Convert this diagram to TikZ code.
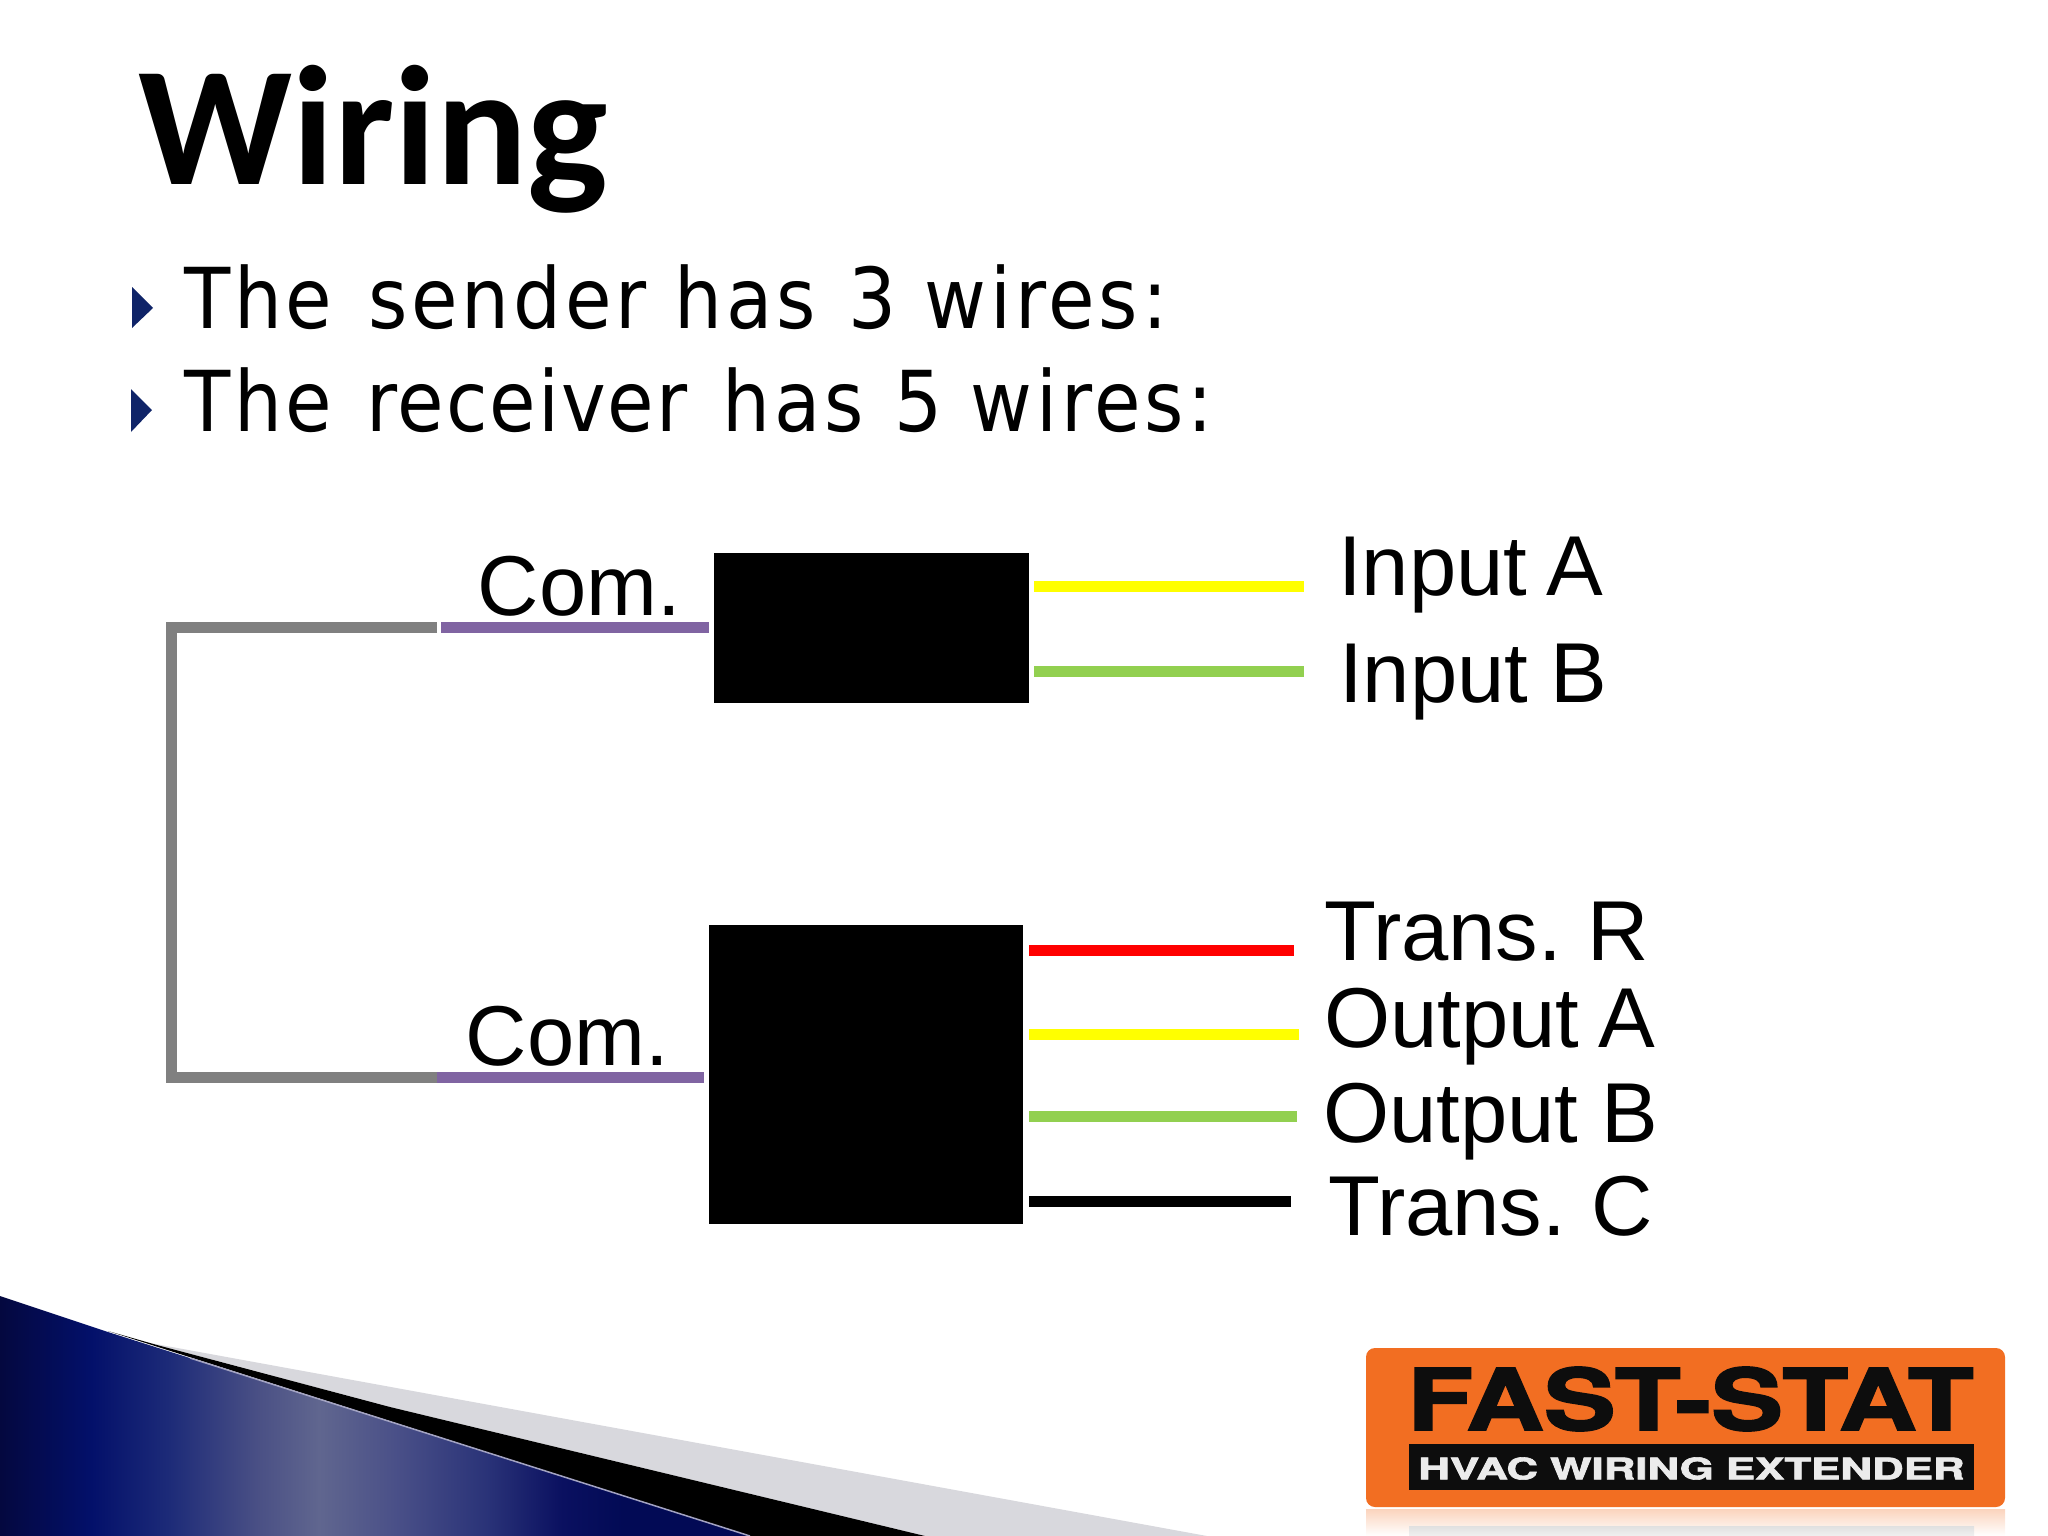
\documentclass[tikz,border=0pt]{standalone}
\usepackage{fontspec}
\usepackage{graphicx}
\setmainfont[WordSpace=0.75]{Liberation Sans}
\newfontfamily\titlefont{Carlito}
\newfontfamily\bodyfont[LetterSpace=4.6]{DejaVu Sans Condensed}
\newfontfamily\logofont[BoldFeatures={FakeBold=2}]{TeX Gyre Heros}
\usetikzlibrary{calc}
\definecolor{wirepurple}{HTML}{8064A2}
\definecolor{wiregray}{HTML}{808080}
\definecolor{wiregreen}{HTML}{92D050}
\definecolor{wireyellow}{HTML}{FFFF00}
\definecolor{wirered}{HTML}{FF0000}
\definecolor{bulletblue}{HTML}{0F2468}
\definecolor{logoorange}{HTML}{F26E22}
\definecolor{swooshgray}{HTML}{D8D8DD}
\definecolor{swa}{HTML}{04083F}
\definecolor{swb}{HTML}{03106A}
\definecolor{swc}{HTML}{1C2A78}
\definecolor{swd}{HTML}{4A5085}
\definecolor{swe}{HTML}{60668F}
\definecolor{swf}{HTML}{4A5088}
\definecolor{swg}{HTML}{2A3378}
\definecolor{swh}{HTML}{0A1060}
\definecolor{swi}{HTML}{020A55}
\pgfdeclarehorizontalshading{swooshblue}{100bp}{
  color(0bp)=(swa);
  color(25bp)=(swa);
  color(31bp)=(swb);
  color(36bp)=(swc);
  color(42bp)=(swd);
  color(46bp)=(swe);
  color(51bp)=(swf);
  color(57bp)=(swg);
  color(62bp)=(swh);
  color(66bp)=(swi);
  color(100bp)=(swi)}
\tikzset{
  wire/.style = {line width=11pt},
  wirelabel/.style = {anchor=base west, inner sep=0pt, font=\fontsize{85}{85}\selectfont},
  bodytext/.style = {anchor=base west, inner sep=0pt, font=\bodyfont\fontsize{84}{84}\selectfont},
  bullet/.style = {fill=bulletblue},
  blackbox/.style = {fill=black, inner sep=0pt}
}
\begin{document}
\begin{tikzpicture}[x=1pt,y=-1pt]
  \useasboundingbox (0,0) rectangle (2048,1536);
  \path[fill=swooshgray] (150,1343) -- (1207,1536) -- (925,1536) -- (390,1407) -- cycle;
  \path[fill=black] (108,1331) -- (157,1345) -- (390,1407) -- (925,1536) -- (750,1536) -- cycle;
  \begin{scope}
    \clip (0,1296) -- (108,1332) -- (750,1536) -- (0,1536) -- cycle;
    \shade[shading=swooshblue] (0,1296) rectangle (760,1536);
  \end{scope}
  \draw[line width=1.5pt,color=blue!20!gray!60] (190,1358) -- (750,1536);
  \node[anchor=base west, inner sep=0pt, font=\titlefont\bfseries\fontsize{170}{170}\selectfont] (title) at (138,184) {Wiring};
  \node[bodytext] (line1) at (184,328) {The\hspace{8pt} sender has\hspace{5pt} 3 wires:};
  \node[bodytext] (line2) at (184,431) {The\hspace{6pt} {\addfontfeature{LetterSpace=2.4}receiver}\hspace{7pt} has\hspace{3pt} 5 wires:};
  \path[bullet] (132,287) -- (153,308) -- (132,328) -- cycle;
  \path[bullet] (131,389) -- (152,410) -- (131,432) -- cycle;
  \node[blackbox, minimum width=315pt, minimum height=150pt] (sender) at (871.5,628) {};
  \node[blackbox, minimum width=314pt, minimum height=299pt] (receiver) at (866,1074.5) {};
  \coordinate (comA) at (437,627.5);
  \coordinate (comB) at (437,1077);
  \draw[wire,wiregray] (comA) -- (171,627.5) -- (171,1077) -- (comB);
  \draw[wire,wirepurple] ([xshift=-5]sender.west |- comA) -- ([xshift=4]comA);
  \draw[wire,wirepurple] ([xshift=-5]receiver.west |- comB) -- (comB);
  \coordinate (inA) at (1304,586);
  \coordinate (inB) at (1304,671);
  \coordinate (trR) at (1294,950);
  \coordinate (outA) at (1299,1034);
  \coordinate (outB) at (1297,1116);
  \coordinate (trC) at (1291,1201);
  \draw[wire,wireyellow] ([xshift=5]sender.east |- inA) -- (inA);
  \draw[wire,wiregreen] ([xshift=5]sender.east |- inB) -- (inB);
  \draw[wire,wirered] ([xshift=6]receiver.east |- trR) -- (trR);
  \draw[wire,wireyellow] ([xshift=6]receiver.east |- outA) -- (outA);
  \draw[wire,wiregreen] ([xshift=6]receiver.east |- outB) -- (outB);
  \draw[wire,black] ([xshift=6]receiver.east |- trC) -- (trC);
  \node[wirelabel] (comAlabel) at (477.5,615) {Com.};
  \node[wirelabel] (comBlabel) at (465.5,1065) {Com.};
  \node[wirelabel] (inAlabel) at (1338,595) {Input\hspace{2pt} A};
  \node[wirelabel] (inBlabel) at (1339,702) {Input\hspace{5pt} B};
  \node[wirelabel] (trRlabel) at (1324,960) {Trans. R};
  \node[wirelabel] (outAlabel) at (1324,1047) {Output\hspace{1pt} A};
  \node[wirelabel] (outBlabel) at (1323,1142) {Output\hspace{5pt} B};
  \node[wirelabel] (trClabel) at (1328,1235) {Trans. C};
  \shade[top color=logoorange!30, bottom color=white] (1366,1509) rectangle (2005,1536);
  \shade[top color=black!12, bottom color=black!6] (1409,1526) rectangle (1974,1536);
  \path[fill=logoorange, rounded corners=9pt] (1366,1348) rectangle (2005,1507);
  \path[fill=black!95] (1409,1444) rectangle (1974,1490);
  \node[inner sep=0pt, text=black!95] (logotop) at (1690.5,1399) {\resizebox{566pt}{63pt}{\logofont\bfseries FAST-STAT}};
  \node[inner sep=0pt, text=white!92!black] (logobottom) at (1691.5,1468.5) {\resizebox{546pt}{22pt}{\logofont\bfseries HVAC WIRING EXTENDER}};
\end{tikzpicture}
\end{document}
